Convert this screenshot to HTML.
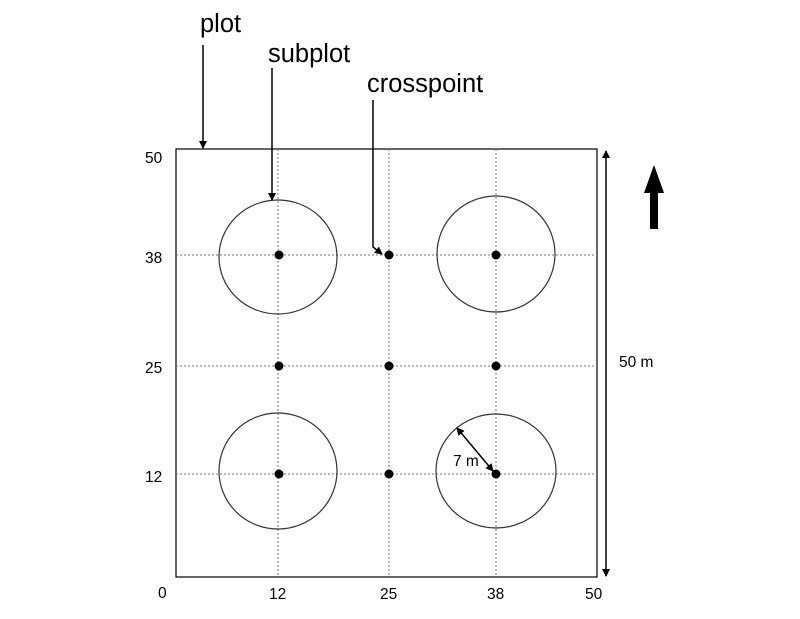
<!DOCTYPE html>
<html><head><style>body{margin:0;background:#fff}</style></head><body>
<svg width="800" height="614" xmlns="http://www.w3.org/2000/svg" font-family="Liberation Sans, sans-serif">
<defs><marker id="a" markerWidth="8" markerHeight="8" refX="7" refY="4" orient="auto" markerUnits="userSpaceOnUse"><path d="M0,0 L8,4 L0,8 z" fill="#000"/></marker>
<marker id="b" markerWidth="8" markerHeight="8" refX="1" refY="4" orient="auto" markerUnits="userSpaceOnUse"><path d="M8,0 L0,4 L8,8 z" fill="#000"/></marker></defs>
<rect x="176" y="149" width="421" height="428" fill="none" stroke="#000" stroke-width="1.2"/>
<g stroke="#777" stroke-dasharray="2,2" stroke-width="1">
<line x1="278" y1="149" x2="278" y2="577"/><line x1="389" y1="149" x2="389" y2="577"/><line x1="496" y1="149" x2="496" y2="577"/>
<line x1="176" y1="255" x2="597" y2="255"/><line x1="176" y1="366" x2="597" y2="366"/><line x1="176" y1="474" x2="597" y2="474"/>
</g>
<g fill="none" stroke="#333" stroke-width="1.2">
<ellipse cx="278" cy="257" rx="59" ry="57"/><ellipse cx="496" cy="254" rx="59" ry="58"/>
<ellipse cx="278" cy="471" rx="59" ry="58"/><ellipse cx="496" cy="471" rx="60" ry="57"/>
</g>
<g fill="#000">
<circle cx="279" cy="255" r="4.5"/><circle cx="389" cy="255" r="4.5"/><circle cx="496" cy="255" r="4.5"/>
<circle cx="279" cy="366" r="4.5"/><circle cx="389" cy="366" r="4.5"/><circle cx="496" cy="366" r="4.5"/>
<circle cx="279" cy="474" r="4.5"/><circle cx="389" cy="474" r="4.5"/><circle cx="496" cy="474" r="4.5"/>
</g>
<g stroke="#000" stroke-width="1.5" fill="none">
<line x1="203" y1="45" x2="203" y2="148" marker-end="url(#a)"/>
<line x1="272" y1="68" x2="272" y2="200" marker-end="url(#a)"/>
<polyline points="373,100 373,247 382,254" marker-end="url(#a)"/>
<line x1="606" y1="151" x2="606" y2="576" marker-start="url(#b)" marker-end="url(#a)"/>
<line x1="457" y1="428" x2="493" y2="471" marker-start="url(#b)" marker-end="url(#a)"/>
</g>
<rect x="650" y="192" width="8" height="37" fill="#000"/>
<path d="M644,193 L654,165 L664,193 z" fill="#000"/>
<g font-size="25.5" fill="#000">
<text x="200" y="32">plot</text><text x="268" y="62">subplot</text><text x="367" y="92">crosspoint</text>
</g>
<g font-size="15.5" fill="#000">
<text x="145" y="163">50</text><text x="145" y="263">38</text><text x="145" y="373">25</text><text x="145" y="482">12</text>
<text x="158" y="598">0</text>
<text x="269" y="599">12</text><text x="380" y="599">25</text><text x="487" y="599">38</text><text x="585" y="599">50</text>
<text x="619" y="367">50 m</text><text x="453" y="466">7 m</text>
</g>
</svg>
</body></html>
